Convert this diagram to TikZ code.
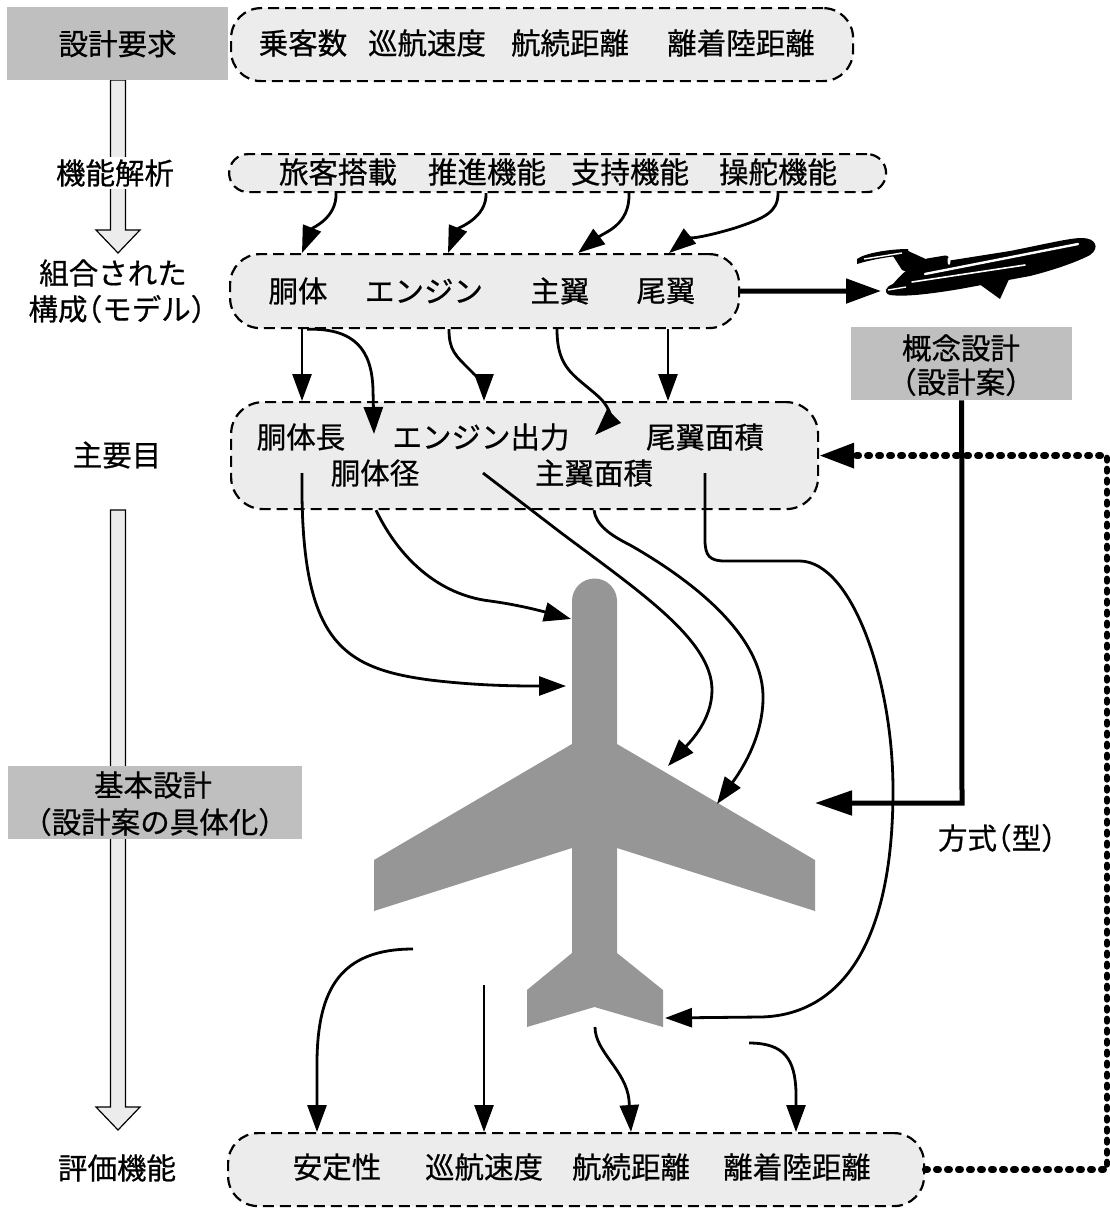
\documentclass[tikz,border=0pt]{standalone}
\usepackage{fontspec}
\setmainfont{Noto Sans CJK JP}[FakeBold=0.6]
\usetikzlibrary{arrows.meta}
\definecolor{boxfill}{gray}{0.925}
\definecolor{tagfill}{gray}{0.75}
\definecolor{planegray}{gray}{0.59}
% narrow full-width parentheses
\newcommand\jlp{\kern-.5em（}
\newcommand\jrp{）\kern-.5em}

\begin{document}
\begin{tikzpicture}[x=1pt,y=-1pt,
  font=\fontsize{29.5}{35}\selectfont,
  dbox/.style={draw, fill=boxfill, line width=2.2pt, dash pattern=on 11pt off 6pt, rounded corners=#1, anchor=north west},
  gbox/.style={fill=tagfill, anchor=north west},
  word/.style={inner sep=0pt},
  lbl/.style={fill=white, inner sep=2pt},
  arr/.style={line width=2.8pt, line join=round, -{Triangle[length=27pt,width=19pt]}},
  thickarr/.style={line width=5pt, -{Triangle[length=35pt,width=24pt]}},
  dotarr/.style={line width=6.5pt, line cap=round, dash pattern=on 2.5pt off 8.5pt, -{Triangle[length=35pt,width=24pt]}},
  hollow/.style={fill=boxfill, draw=black, line width=1.2pt},
]
\useasboundingbox (0,0) rectangle (1109,1208);

% ---- hollow process arrows on the left ----
\draw[hollow] (110.5,80) -- (110.5,230) -- (96,230) -- (118,253) -- (140,230) -- (125.5,230) -- (125.5,80) -- cycle;
\draw[hollow] (110.5,510) -- (110.5,1107) -- (96,1107) -- (118,1130) -- (140,1107) -- (125.5,1107) -- (125.5,510) -- cycle;

% ---- stage labels ----
\node[gbox, minimum width=221pt, minimum height=73pt] (req) at (7,7) {};
\node[word] at (req.center) {設計要求};
\node[lbl] (fa) at (115,173) {機能解析};
\node[word] (cm1) at (113,273) {組合された};
\node[word] (cm2) at (117,309) {構成\jlp モデル\jrp};
\node[word] (mainp) at (117,455) {主要目};
\node[gbox, minimum width=294pt, minimum height=73pt] (basic) at (8,766) {};
\node[word] at (153,785) {基本設計};
\node[word] at (155,822) {\jlp 設計案の具体化\jrp};
\node[word] (evalf) at (117,1168) {評価機能};

% ---- dashed boxes ----
\node[dbox=30pt, minimum width=622pt, minimum height=73pt] (B1) at (230,7) {};
\node[word] at (303,43) {乗客数};
\node[word] at (427,43) {巡航速度};
\node[word] at (570,43) {航続距離};
\node[word] at (741,43) {離着陸距離};

\node[dbox=19pt, minimum width=657pt, minimum height=38pt] (B2) at (228,153) {};
\node[word] at (338,172) {旅客搭載};
\node[word] at (487,172) {推進機能};
\node[word] at (630,172) {支持機能};
\node[word] at (778,172) {操舵機能};

\node[dbox=30pt, minimum width=509pt, minimum height=74pt] (B3) at (229,253) {};
\node[word] at (298,291) {胴体};
\node[word] at (424,291) {エンジン};
\node[word] at (560,291) {主翼};
\node[word] at (666,291) {尾翼};

\node[dbox=32pt, minimum width=587pt, minimum height=107pt] (B4) at (230,401) {};
\node[word] at (301,437) {胴体長};
\node[word] at (481,437) {エンジン出力};
\node[word] at (705,437) {尾翼面積};
\node[word] at (375,473) {胴体径};
\node[word] at (594,473) {主翼面積};

\node[dbox=30pt, minimum width=696pt, minimum height=73pt] (B5) at (227,1132) {};
\node[word] at (337,1167) {安定性};
\node[word] at (484,1167) {巡航速度};
\node[word] at (631,1167) {航続距離};
\node[word] at (797,1167) {離着陸距離};

% ---- concept design tag ----
\node[gbox, minimum width=221pt, minimum height=73pt] (concept) at (851,327) {};
\node[word] at (961,348) {概念設計};
\node[word] at (961,382) {\jlp 設計案\jrp};
\node[word] (method) at (997,838) {方式\jlp 型\jrp};

% ---- large plan-view aircraft ----
\fill[planegray] (572,601) arc[start angle=180,end angle=360,radius=22.5]
  -- (617,744) -- (815,860) -- (815,911) -- (617,848) -- (617,953)
  -- (663,990) -- (663,1027) -- (594.5,1007) -- (527,1027) -- (527,990)
  -- (572,953) -- (572,848) -- (374,911) -- (374,860) -- (572,744) -- cycle;
\coordinate (fusA) at (571,619);
\coordinate (fusB) at (566,686);
\coordinate (wingA) at (668,766);
\coordinate (wingB) at (717,804);
\coordinate (tailR) at (665,1018);
\coordinate (wingR) at (815,803);

% ---- small side-view jet ----
\begin{scope}
  % fuselage
  \fill (893,284) .. controls (900,276) and (905,270) .. (915,266) -- (1010,251)
    .. controls (1050,243) and (1070,238) .. (1082,238)
    .. controls (1096,238) and (1100,248) .. (1090,255)
    .. controls (1075,263) and (1050,271) .. (1030,276) -- (960,289)
    .. controls (930,294) and (905,297) .. (890,295)
    .. controls (883,293) and (885,287) .. (893,284) -- cycle;
  % T-tail stabiliser
  \fill (857,259) .. controls (865,253) and (890,249) .. (908,249) -- (909,255)
    .. controls (890,256) and (870,260) .. (857,264) -- cycle;
  % fin and centre intake
  \fill (893,256) -- (906,250) -- (930,261) -- (946,260) -- (949,267) -- (915,275) -- (902,270) -- cycle;
  % side engine
  \fill[rounded corners=3pt] (924,259) -- (948,255) -- (952,266) -- (927,271) -- cycle;
  \fill[white] (949,261) ellipse[x radius=1.5, y radius=4];
  % wing fairing
  \fill (975,281) -- (1010,277) -- (1000,299) -- cycle;
  % highlights
  \draw[white, line width=1.4pt] (864,259) -- (902,253);
  \draw[white, line width=2.4pt, line cap=round] (925,274) -- (1078,244);
  \draw[white, line width=1.6pt, line cap=round] (912,282) -- (1025,265);
  \draw[white, line width=1.4pt] (888,290) -- (906,287);
  \coordinate (jet) at (881,291);
\end{scope}

% ---- connectors: functions to components ----
\draw[arr] (336,0 |- B2.south) .. controls (337,218) and (312,228) .. (302,0 |- B3.north);
\draw[arr] (486,0 |- B2.south) .. controls (487,218) and (458,228) .. (448,0 |- B3.north);
\draw[arr] (629,0 |- B2.south) .. controls (630,225) and (605,232) .. (578,0 |- B3.north);
\draw[arr] (778,0 |- B2.south) .. controls (778,212) and (765,218) .. (735,228)
  .. controls (705,237) and (685,240) .. (669,0 |- B3.north);

\draw[thickarr] (B3.east) -- (jet);

% ---- components to principal dimensions ----
\draw[arr] (302,0 |- B3.south) -- (302,0 |- B4.north);
\draw[arr] (307,0 |- B3.south) .. controls (355,328) and (372,350) .. (373,390) -- (374,434);
\draw[arr] (449,0 |- B3.south) .. controls (449,350) and (455,355) .. (470,370)
  .. controls (480,380) and (484,385) .. (484,0 |- B4.north);
\draw[arr] (557,0 |- B3.south) .. controls (557,370) and (575,375) .. (600,398)
  .. controls (612,410) and (610,420) .. (595,435);
\draw[arr] (668,0 |- B3.south) -- (668,0 |- B4.north);

% ---- principal dimensions to the aircraft ----
\coordinate (d1) at (302,473);
\coordinate (d3) at (483,473);
\coordinate (d5) at (705,473);
\draw[arr] (d1) .. controls (300,640) and (340,668) .. (430,680)
  .. controls (480,686) and (520,686) .. (fusB);
\draw[arr] (376,0 |- B4.south) .. controls (400,560) and (440,595) .. (490,601)
  .. controls (520,605) and (545,612) .. (fusA);
\draw[arr] (d3) -- (560,532) .. controls (640,592) and (712,640) .. (712,690)
  .. controls (712,720) and (690,742) .. (wingA);
\draw[arr] (594,0 |- B4.south) .. controls (596,525) and (610,535) .. (630,545)
  .. controls (700,585) and (765,640) .. (763,700)
  .. controls (762,740) and (740,772) .. (wingB);
\draw[arr] (d5) -- (705,540) .. controls (705,556) and (710,561) .. (725,561) -- (800,561)
  .. controls (852,562) and (893,680) .. (893,790)
  .. controls (893,960) and (830,1016) .. (760,1017) -- (tailR);

% ---- concept design to aircraft (type) ----
\draw[line width=5pt, -{Triangle[length=37pt,width=24pt]}] (concept.south) -- (962,803) -- (wingR);

% ---- aircraft to evaluation ----
\coordinate (e1) at (413,949);
\coordinate (e2) at (484,985);
\coordinate (e3) at (595,1027);
\coordinate (e4) at (749,1043);
\draw[arr] (e1) .. controls (340,949) and (318,990) .. (317,1060) -- (317,0 |- B5.north);
\draw[arr] (e2) -- (484,0 |- B5.north);
\draw[arr] (e3) .. controls (595,1052) and (626,1070) .. (629,1100) -- (631,0 |- B5.north);
\draw[arr] (e4) .. controls (785,1043) and (795,1060) .. (796,1092) -- (796,0 |- B5.north);

% ---- feedback loop ----
\draw[dotarr] (B5.east) -- (1107,0 |- B5.east) -- (1107,0 |- B4.east) -- (B4.east);

\end{tikzpicture}
\end{document}
